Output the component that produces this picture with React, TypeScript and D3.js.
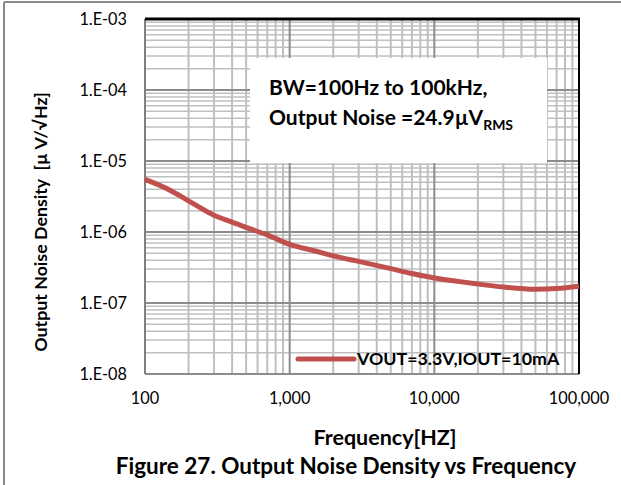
import React from "react";
import * as d3 from "d3";

const width = 621;
const height = 485;
const margin = { top: 19, right: 42, bottom: 111, left: 145 };

// curve readings, frequency in Hz, noise in V/rtHz
const freqHz = [100, 150, 200, 300, 400, 500, 700, 1000, 1500, 2000, 3000, 5000, 7000, 10000, 15000, 20000, 30000, 50000, 70000, 100000];
const noiseDensity = [5.5e-6, 3.85e-6, 2.75e-6, 1.72e-6, 1.38e-6, 1.16e-6, 9.1e-7, 6.7e-7, 5.4e-7, 4.6e-7, 3.85e-7, 3.05e-7, 2.6e-7, 2.25e-7, 2.0e-7, 1.85e-7, 1.68e-7, 1.56e-7, 1.6e-7, 1.72e-7];

const xTicks = [100, 1000, 10000, 100000];
const yTicks = [1e-8, 1e-7, 1e-6, 1e-5, 1e-4, 1e-3];

const seriesName = "VOUT=3.3V,IOUT=10mA";
const noteLine1 = "BW=100Hz to 100kHz,";
const noteLine2 = "Output Noise =24.9\u00b5V";
const noteSub = "RMS";
const xTitle = "Frequency[HZ]";
const yTitle = "Output Noise Density  [\u00b5 V/\u221aHz]";
const caption = "Figure 27. Output Noise Density vs Frequency";

const font = "Lato, 'DejaVu Sans', sans-serif";
const red = "#c0504d";

export default function App() {
  const x = d3.scaleLog().domain([100, 100000]).range([margin.left, width - margin.right]);
  const y = d3.scaleLog().domain([1e-8, 1e-3]).range([height - margin.bottom, margin.top]);

  // minor grid: 2..9 in each decade
  const xMinor: number[] = [];
  for (let d = 100; d < 100000; d *= 10) for (let k = 2; k <= 9; k++) xMinor.push(d * k);
  const yMinor: number[] = [];
  for (let e = -8; e < -3; e++) for (let k = 2; k <= 9; k++) yMinor.push(k * Math.pow(10, e));

  const line = d3.line<number>()
    .x((_, i) => x(freqHz[i]))
    .y(d => y(d))
    .curve(d3.curveMonotoneX);

  const yFmt = (d: number) => "1.E-" + String(Math.round(-Math.log10(d))).padStart(2, "0");
  const xFmt = d3.format(",");

  const [x0, x1] = x.range();
  const [y1, y0] = y.range();

  return (
    <div style={{ position: "absolute", left: 0, top: 0 }}>
      <svg width={width} height={height} style={{ display: "block", background: "#fff" }}>
        {/* frame */}
        <line x1={4} y1={2} x2={width} y2={2} stroke="#8a8a8a" strokeWidth={2} />
        <line x1={4} y1={2} x2={4} y2={height} stroke="#8a8a8a" strokeWidth={2} />

        {/* grid */}
        {yMinor.map(v => (
          <line key={"ym" + v} x1={x0} x2={x1} y1={y(v)} y2={y(v)} stroke="#bfbfbf" strokeWidth={1.5} />
        ))}
        {xMinor.map(v => (
          <line key={"xm" + v} x1={x(v)} x2={x(v)} y1={y0} y2={y1} stroke="#bfbfbf" strokeWidth={2} />
        ))}
        {yTicks.map(v => (
          <line key={"yM" + v} x1={x0} x2={x1} y1={y(v)} y2={y(v)} stroke="#8c8c8c" strokeWidth={2} />
        ))}
        {xTicks.map(v => (
          <line key={"xM" + v} x1={x(v)} x2={x(v)} y1={y0} y2={y1} stroke="#8c8c8c" strokeWidth={2} />
        ))}

        {/* note box */}
        <rect x={250} y={58} width={297} height={105} fill="#fff" />
        <text x={269} y={95} fontFamily={font} fontWeight="bold" fontSize={21} fill="#000">{noteLine1}</text>
        <text x={269} y={125} fontFamily={font} fontWeight="bold" fontSize={21} fill="#000">
          {noteLine2}
          <tspan fontSize={14} dy={5}>{noteSub}</tspan>
        </text>

        {/* plot border */}
        <line x1={x0} x2={x1} y1={y1} y2={y1} stroke="#8c8c8c" strokeWidth={2} />
        <line x1={x0} x2={x0} y1={y1} y2={y0} stroke="#7f7f7f" strokeWidth={2} />
        <line x1={x1} x2={x1} y1={y1} y2={y0} stroke="#000" strokeWidth={2} />
        <line x1={x0} x2={x1 + 1} y1={y0} y2={y0} stroke="#000" strokeWidth={3} />

        {/* series */}
        <path d={line(noiseDensity) || ""} fill="none" stroke={red} strokeWidth={5} strokeLinejoin="round" />

        {/* legend */}
        <line x1={298} x2={354} y1={359} y2={359} stroke={red} strokeWidth={5} strokeLinecap="round" />
        <text x={357} y={365} fontFamily={font} fontWeight="bold" fontSize={17.8} fill="#000">{seriesName}</text>

        {/* ticks */}
        {yTicks.map(v => (
          <text key={"yt" + v} x={127} y={y(v)} dy="0.35em" textAnchor="end" fontFamily={font} fontSize={16.3} fill="#000">
            {yFmt(v)}
          </text>
        ))}
        {xTicks.map(v => (
          <text key={"xt" + v} x={x(v)} y={398} dy="0.35em" textAnchor="middle" fontFamily={font} fontSize={16.3} fill="#000">
            {xFmt(v)}
          </text>
        ))}

        {/* titles */}
        <text transform="translate(47,222) rotate(-90)" textAnchor="middle" fontFamily={font} fontWeight="bold" fontSize={17.8} fill="#000" style={{ whiteSpace: "pre" }}>
          {yTitle}
        </text>
        <text x={385} y={437} dy="0.35em" textAnchor="middle" fontFamily={font} fontWeight="bold" fontSize={21.5} fill="#000">{xTitle}</text>
        <text x={346} y={466} dy="0.35em" textAnchor="middle" fontFamily={font} fontWeight="bold" fontSize={22.5} fill="#000">{caption}</text>
      </svg>
    </div>
  );
}
